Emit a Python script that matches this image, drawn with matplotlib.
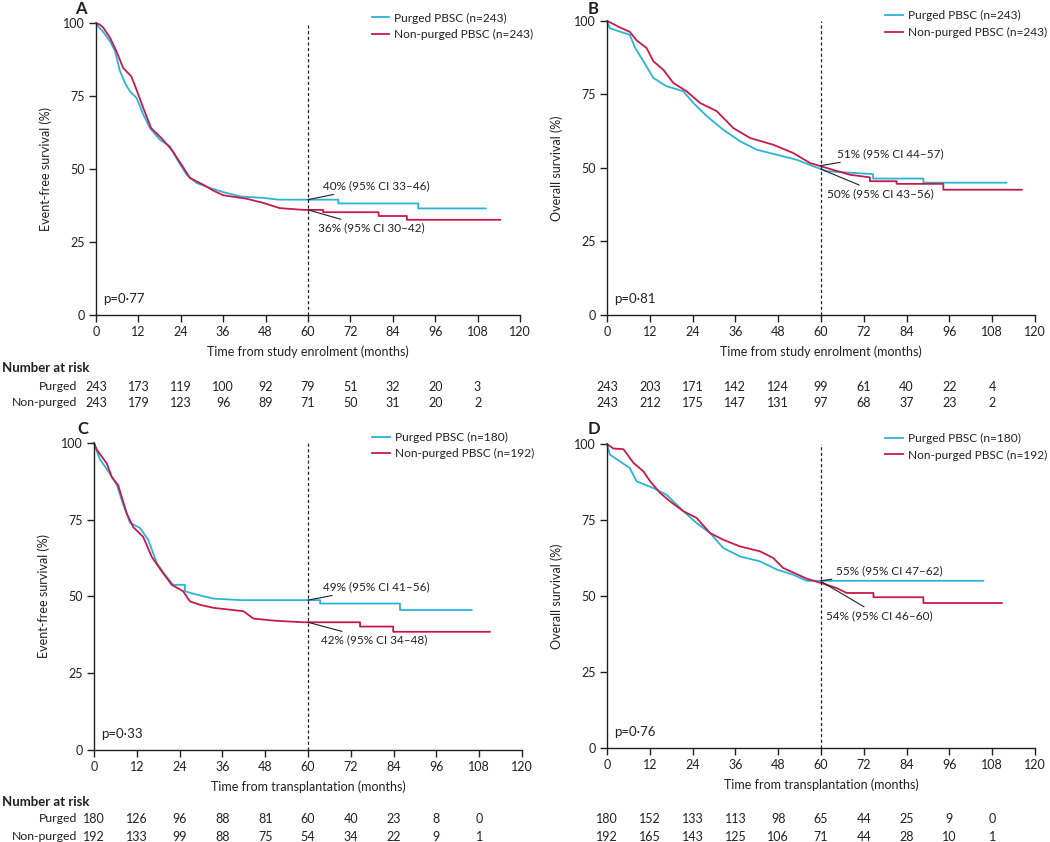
import matplotlib
matplotlib.use("Agg")
import matplotlib.pyplot as plt
import matplotlib.transforms as mtransforms
import numpy as np

plt.rcParams['font.family'] = ['Lato', 'DejaVu Sans']
plt.rcParams['font.size'] = 9
plt.rcParams['text.color'] = '#231f20'
plt.rcParams['axes.labelcolor'] = '#231f20'
plt.rcParams['xtick.labelcolor'] = '#231f20'
plt.rcParams['ytick.labelcolor'] = '#231f20'

BLUE = '#2ab4d9'
RED = '#c8194b'

months = [0, 12, 24, 36, 48, 60, 72, 84, 96, 108]

# panel A - event-free survival from enrolment
a_pur_t = [0, 0.5, 2, 4, 5.4, 6.8, 8.2, 9.6, 11.5, 13.4, 15.3, 18.1, 20.9, 23.3, 25.7, 28.5, 32.3, 36, 40.8, 47.3, 51.6, 68.6, 68.6, 91.2, 91.2, 110.3]
a_pur_s = [100, 99, 97, 93.7, 90.3, 83.5, 79.5, 76.6, 74.3, 68.6, 64, 60, 57.8, 52.6, 48, 45.2, 43.5, 42.1, 40.6, 40.1, 39.5, 39.5, 38.2, 38.2, 36.5, 36.5]
a_non_t = [0, 1, 2, 4, 5.8, 7.7, 10, 11.3, 13.2, 15.6, 18.5, 21.4, 24.2, 26.6, 30.4, 33.2, 36, 42.7, 47.3, 52, 58.7, 64.3, 64.3, 80, 80, 88, 88, 114.4]
a_non_s = [100, 99.5, 98.5, 94.9, 90.3, 84.6, 81.7, 77.7, 71.5, 64, 60.6, 56.6, 51.5, 46.9, 44.6, 42.6, 41, 39.8, 38.4, 36.6, 36, 36, 35.2, 35.2, 33.9, 33.9, 32.6, 32.6]
a_risk_pur = [243, 173, 119, 100, 92, 79, 51, 32, 20, 3]
a_risk_non = [243, 179, 123, 96, 89, 71, 50, 31, 20, 2]

# panel B - overall survival from enrolment
b_pur_t = [0, 0.8, 6.4, 7.9, 10.2, 13, 16.7, 21.4, 24.2, 28, 32.6, 37.3, 42, 47.6, 53.2, 57.8, 61.6, 74.6, 74.6, 88.7, 88.7, 112]
b_pur_s = [100, 97.5, 95.3, 90.8, 86.3, 80.6, 77.8, 76.1, 72.1, 67.6, 63, 59.1, 56.2, 54.5, 52.8, 50.6, 48.9, 47.9, 46.4, 46.4, 45, 45]
b_non_t = [0, 0.9, 3.6, 6.4, 8.3, 11.1, 13, 15.8, 18.6, 22.3, 26.1, 30.8, 35.4, 40.1, 46.6, 52.2, 56.9, 61.6, 68.1, 73.7, 73.7, 81.2, 81.2, 94.3, 94.3, 116.3]
b_non_s = [100, 99.5, 97.8, 96.3, 93.4, 90.8, 86.3, 83.4, 78.9, 76.1, 72.1, 69.3, 63.6, 60.2, 57.9, 55.1, 51.7, 50, 47.7, 46.8, 45.5, 45.5, 44.6, 44.6, 42.6, 42.6]
b_risk_pur = [243, 203, 171, 142, 124, 99, 61, 40, 22, 4]
b_risk_non = [243, 212, 175, 147, 131, 97, 68, 37, 23, 2]

# panel C - event-free survival from transplantation
c_pur_t = [0, 0.3, 1.7, 4, 6.4, 8.2, 10.1, 12.9, 15.2, 17.6, 19.9, 22.2, 25.5, 25.5, 28.8, 33.5, 41.4, 63.4, 63.4, 85.8, 85.8, 105.9]
c_pur_s = [100, 98.9, 94.6, 90.8, 86.4, 79.9, 74, 72.3, 68.5, 60.9, 57.1, 53.8, 53.8, 51.7, 50.6, 49.3, 48.8, 48.8, 47.7, 47.7, 45.6, 45.6]
c_non_t = [0, 0.8, 3.6, 5, 6.8, 9.2, 11, 13.8, 16.2, 19, 21.8, 25, 26.9, 29.7, 33.5, 41.9, 44.7, 50.7, 58.7, 74.6, 74.6, 83.9, 83.9, 111]
c_non_s = [100, 97.8, 93.3, 88.9, 86.2, 77, 72.6, 69.4, 62.9, 58.2, 53.8, 51.7, 48.4, 47.3, 46.3, 45.2, 42.8, 42.1, 41.6, 41.6, 40.2, 40.2, 38.5, 38.5]
c_risk_pur = [180, 126, 96, 88, 81, 60, 40, 23, 8, 0]
c_risk_non = [192, 133, 99, 88, 75, 54, 34, 22, 9, 1]

# panel D - overall survival from transplantation
d_pur_t = [0, 0.8, 6.4, 8.3, 13, 16.7, 21.4, 25.1, 28.9, 32.6, 37.3, 42.9, 47.6, 52.2, 56, 105.5]
d_pur_s = [100, 96.5, 92.1, 87.7, 85.5, 83.3, 77.9, 74, 70.7, 65.8, 63, 61.4, 58.7, 57, 55, 55]
d_non_t = [0, 1.8, 4.6, 7.4, 10.2, 12.1, 14.9, 17.7, 21.4, 25.1, 28.9, 32.6, 37.3, 42.9, 46.6, 49.4, 53.2, 56, 61.6, 64.4, 67.2, 74.7, 74.7, 88.7, 88.7, 110.7]
d_non_s = [100, 98.5, 98.3, 93.8, 91, 87.7, 83.9, 81.1, 77.9, 75.7, 70.7, 68.5, 66.3, 64.7, 62.5, 59.2, 57.2, 55.7, 53.7, 52.6, 51, 51, 49.6, 49.6, 47.7, 47.7]
d_risk_pur = [180, 152, 133, 113, 98, 65, 44, 25, 9, 0]
d_risk_non = [192, 165, 143, 125, 106, 71, 44, 28, 10, 1]

fig = plt.figure(figsize=(10.5, 8.42), dpi=100)

panels = [
    dict(rect=[0.0914, 0.6259, 0.4038, 0.3468], letter='A', lx=75, ly=1, ylab='Event-free survival (%)',
         xlab='Time from study enrolment (months)', pur=(a_pur_t, a_pur_s), non=(a_non_t, a_non_s),
         n=(243, 243), p='p=0·77', risk=(a_risk_pur, a_risk_non),
         top=('40% (95% CI 33–46)', 39.5, 64.2, 44.2), bot=('36% (95% CI 30–42)', 36, 62.8, 29.8)),
    dict(rect=[0.5781, 0.6259, 0.4076, 0.3492], letter='B', lx=588, ly=1, ylab='Overall survival (%)',
         xlab='Time from study enrolment (months)', pur=(b_pur_t, b_pur_s), non=(b_non_t, b_non_s),
         n=(243, 243), p='p=0·81', risk=(b_risk_pur, b_risk_non),
         top=('51% (95% CI 44–57)', 50.8, 64.5, 54.8), bot=('50% (95% CI 43–56)', 49.6, 61.7, 41.2)),
    dict(rect=[0.0895, 0.1093, 0.4076, 0.3646], letter='C', lx=77, ly=421, ylab='Event-free survival (%)',
         xlab='Time from transplantation (months)', pur=(c_pur_t, c_pur_s), non=(c_non_t, c_non_s),
         n=(180, 192), p='p=0·33', risk=(c_risk_pur, c_risk_non),
         top=('49% (95% CI 41–56)', 48.8, 64.2, 53.1), bot=('42% (95% CI 34–48)', 41.6, 63.6, 35.8)),
    dict(rect=[0.5781, 0.1116, 0.4076, 0.3611], letter='D', lx=588, ly=421, ylab='Overall survival (%)',
         xlab='Time from transplantation (months)', pur=(d_pur_t, d_pur_s), non=(d_non_t, d_non_s),
         n=(180, 192), p='p=0·76', risk=(d_risk_pur, d_risk_non),
         top=('55% (95% CI 47–62)', 55, 64.2, 58.3), bot=('54% (95% CI 46–60)', 54.8, 61.4, 43.5)),
]

for i, pn in enumerate(panels):
    ax = fig.add_axes(pn['rect'])
    ax.plot(pn['pur'][0], pn['pur'][1], color=BLUE, lw=1.3, label=f"Purged PBSC (n={pn['n'][0]})", clip_on=False)
    ax.plot(pn['non'][0], pn['non'][1], color=RED, lw=1.3, label=f"Non-purged PBSC (n={pn['n'][1]})", clip_on=False)
    ax.plot([60, 60], [0, 100], color='#231f20', lw=0.9, ls=(0, (2.5, 2)))
    ax.set_xlim(0, 120)
    ax.set_ylim(0, 100)
    ax.set_xticks(months + [120])
    ax.set_yticks([0, 25, 50, 75, 100])
    for s in ['top', 'right']:
        ax.spines[s].set_visible(False)
    for s in ['left', 'bottom']:
        ax.spines[s].set_linewidth(1.0)
        ax.spines[s].set_color('#231f20')
    ax.tick_params(direction='out', length=5, width=1.0, color='#231f20', labelsize=9, pad=3)
    ax.set_xlabel(pn['xlab'], fontsize=9, labelpad=5)
    ax.set_ylabel(pn['ylab'], fontsize=9, labelpad=8)
    fig.text(pn['lx'] / 1050, 1 - pn['ly'] / 842, pn['letter'], fontsize=12, fontweight='bold',
             va='top', ha='left')
    ax.text(0.017, 0.04, pn['p'], transform=ax.transAxes, fontsize=9.5)
    for txt, y0, tx, ty in (pn['top'], pn['bot']):
        ax.annotate(txt, xy=(60, y0), xytext=(tx, ty), fontsize=8.5, va='center', ha='left',
                    arrowprops=dict(arrowstyle='-', lw=0.8, color='#231f20', shrinkA=1, shrinkB=0))
    ax.legend(loc='upper left', bbox_to_anchor=(0.65, 1.036), frameon=False, fontsize=8.6,
              handlelength=1.5, handletextpad=0.42, labelspacing=0.45, borderpad=0, borderaxespad=0)

    # number at risk
    trans = mtransforms.blended_transform_factory(ax.transData, fig.transFigure)
    top_row = i < 2
    y_pur = 1 - (387 if top_row else 819) / 842
    y_non = 1 - (403 if top_row else 837) / 842
    for m, v1, v2 in zip(months, pn['risk'][0], pn['risk'][1]):
        ax.text(m, y_pur, str(v1), transform=trans, ha='center', va='center', fontsize=9, clip_on=False)
        ax.text(m, y_non, str(v2), transform=trans, ha='center', va='center', fontsize=9, clip_on=False)
    if i % 2 == 0:
        fig.text(0.002, 1 - (368 if top_row else 802) / 842, 'Number at risk', fontsize=9.5,
                 fontweight='bold', va='center', ha='left')
        fig.text(0.074, y_pur, 'Purged', fontsize=8.8, va='center', ha='right')
        fig.text(0.074, y_non, 'Non-purged', fontsize=8.8, va='center', ha='right')

fig.savefig('out.png', dpi=100)
